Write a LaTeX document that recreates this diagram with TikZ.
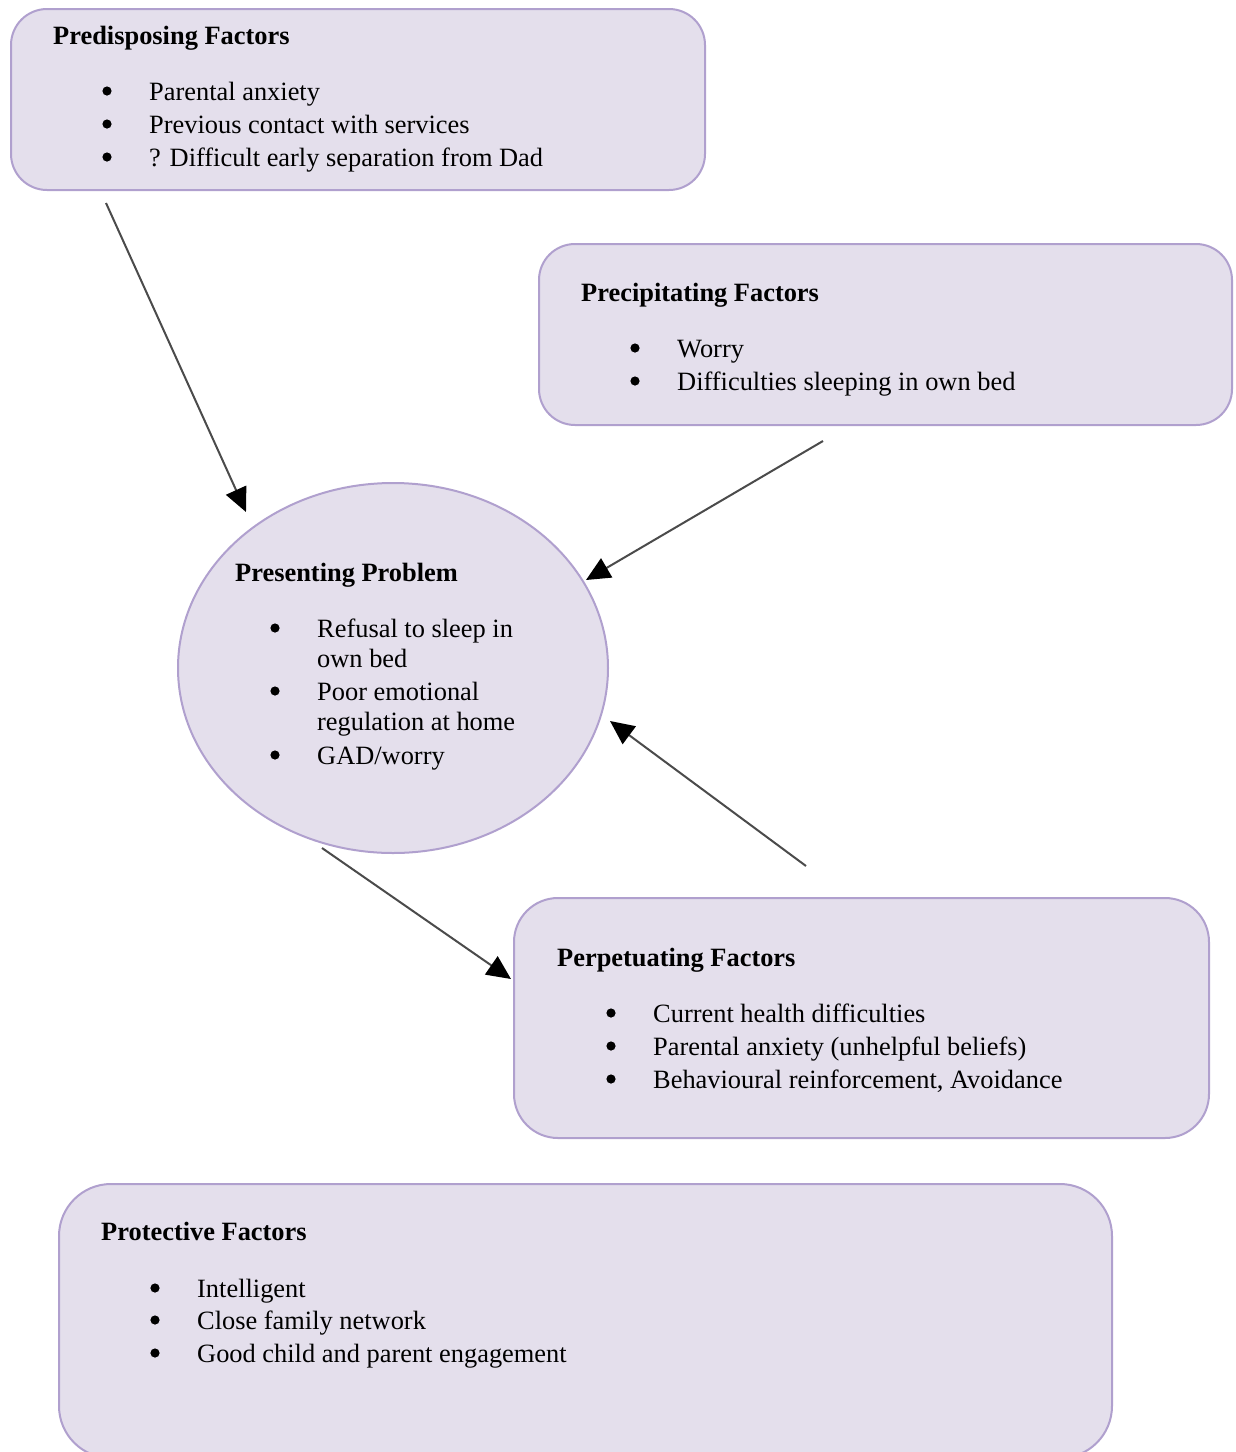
\documentclass[tikz,border=0pt]{standalone}
\usepackage{fontspec}
\setmainfont{Liberation Serif}
\usetikzlibrary{arrows.meta,shapes.geometric}
\definecolor{boxfill}{RGB}{228,223,236}
\definecolor{boxline}{RGB}{176,160,206}
\definecolor{linkgray}{RGB}{75,75,75}
\tikzset{
  factorbox/.style={draw=boxline, fill=boxfill, line width=2pt, anchor=north west, inner sep=0pt},
  problem/.style={ellipse, draw=boxline, fill=boxfill, line width=2pt, inner sep=0pt},
  heading/.style={anchor=base west, inner sep=0pt, font=\fontsize{26.4}{31}\selectfont\bfseries},
  item/.style={anchor=base west, inner sep=0pt, font=\fontsize{26.4}{31}\selectfont},
  dot/.style={fill=black},
  link/.style={draw=linkgray, line width=2pt, -{Triangle[length=24pt,width=22pt,color=black]}},
}
\begin{document}
\begin{tikzpicture}[x=1pt,y=-1pt]
\clip (0,0) rectangle (1236,1452);
\fill[white] (0,0) rectangle (1236,1452);

% Boxes and central problem
\node[factorbox, rounded corners=36pt, minimum width=694pt, minimum height=181pt] (predisposing) at (10,8) {};
\node[factorbox, rounded corners=36pt, minimum width=693pt, minimum height=181pt] (precipitating) at (538,243) {};
\node[problem, minimum width=430pt, minimum height=370pt] (presenting) at (393,668) {};
\node[factorbox, rounded corners=44pt, minimum width=695pt, minimum height=240pt] (perpetuating) at (513,897) {};
\node[factorbox, rounded corners=52pt, minimum width=1053pt, minimum height=274pt] (protective) at (58,1183) {};

% Predisposing factors
\node[heading] (predT) at (53,44) {Predisposing Factors};
\fill[dot] (107,91) circle (4.6pt);
\fill[dot] (107,124) circle (4.6pt);
\fill[dot] (107,157) circle (4.6pt);
\node[item] (pred1) at (149,100) {Parental anxiety};
\node[item] (pred2) at (149,133) {Previous contact with services};
\node[item] (pred3) at (149,166) {? Difficult early separation from Dad};

% Precipitating factors
\node[heading] (precT) at (581,301) {Precipitating Factors};
\fill[dot] (635,348) circle (4.6pt);
\fill[dot] (635,381) circle (4.6pt);
\node[item] (prec1) at (677,357) {Worry};
\node[item] (prec2) at (677,390) {Difficulties sleeping in own bed};

% Presenting problem
\node[heading] (presT) at (235,581) {Presenting Problem};
\fill[dot] (275,628) circle (4.6pt);
\fill[dot] (275,691) circle (4.6pt);
\fill[dot] (275,755) circle (4.6pt);
\node[item] (pres1a) at (317,637) {Refusal to sleep in};
\node[item] (pres1b) at (317,667) {own bed};
\node[item] (pres2a) at (317,700) {Poor emotional};
\node[item] (pres2b) at (317,730) {regulation at home};
\node[item] (pres3) at (317,764) {GAD/worry};

% Perpetuating factors
\node[heading] (perpT) at (557,966) {Perpetuating Factors};
\fill[dot] (611,1013) circle (4.6pt);
\fill[dot] (611,1046) circle (4.6pt);
\fill[dot] (611,1079) circle (4.6pt);
\node[item] (perp1) at (653,1022) {Current health difficulties};
\node[item] (perp2) at (653,1055) {Parental anxiety (unhelpful beliefs)};
\node[item] (perp3) at (653,1088) {Behavioural reinforcement, Avoidance};

% Protective factors
\node[heading] (protT) at (101,1240) {Protective Factors};
\fill[dot] (155,1288) circle (4.6pt);
\fill[dot] (155,1320) circle (4.6pt);
\fill[dot] (155,1353) circle (4.6pt);
\node[item] (prot1) at (197,1297) {Intelligent};
\node[item] (prot2) at (197,1329) {Close family network};
\node[item] (prot3) at (197,1362) {Good child and parent engagement};

% Connector end points
\coordinate (predOut) at (106,203);
\coordinate (presInA) at (246,512);
\coordinate (precOut) at (823,441);
\coordinate (presInB) at (586,580);
\coordinate (perpOut) at (806,866);
\coordinate (presInC) at (610,721);
\coordinate (presOut) at (322,848);
\coordinate (perpIn) at (511,979);

% Connectors
\draw[link] (predOut) -- (presInA);
\draw[link] (precOut) -- (presInB);
\draw[link] (perpOut) -- (presInC);
\draw[link] (presOut) -- (perpIn);
\end{tikzpicture}
\end{document}
